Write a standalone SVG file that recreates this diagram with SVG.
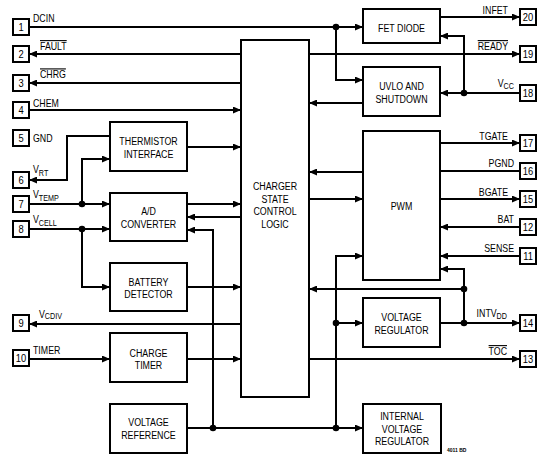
<svg xmlns="http://www.w3.org/2000/svg" width="547" height="465" viewBox="0 0 547 465">
<defs>
<marker id="a" markerUnits="userSpaceOnUse" markerWidth="8" markerHeight="7" refX="8" refY="3.5" orient="auto">
<path d="M0,0 L8,3.5 L0,7 z" fill="#000"/>
</marker>
<style>
.b{fill:#fff;stroke:#000;stroke-width:2}
.pin{fill:#fff;stroke:#000;stroke-width:2}
.c path{fill:none;stroke:#000;stroke-width:2}
.c .m{marker-end:url(#a)}
.c circle{fill:#000}
text{font-family:"Liberation Sans",Arial,Helvetica,sans-serif;fill:#000}
.t{font-size:11.5px;text-anchor:middle}
.l{font-size:11px}
.r{font-size:11px;text-anchor:end}
.n{font-size:11px;text-anchor:middle}
.s{font-size:9px}
.o{text-decoration:overline}
</style>
</defs>
<rect width="547" height="465" fill="#fff"/>

<g class="c" id="connectors">
<path class="m" d="M29,27 H363"/>
<path class="m" d="M336,27 V80 H363"/>
<path class="m" d="M241,54 H29"/>
<path class="m" d="M309,54 H520"/>
<path class="m" d="M241,83 H29"/>
<path class="m" d="M29,110 H241"/>
<path class="m" d="M187,147 H241"/>
<path class="m" d="M110,136 H67 V180 H29"/>
<path class="m" d="M29,204 H110"/>
<path class="m" d="M82,204 V159 H110"/>
<path class="m" d="M29,229 H110"/>
<path class="m" d="M82,229 V287 H110"/>
<path class="m" d="M187,204 H241"/>
<path class="m" d="M241,217 H187"/>
<path class="m" d="M213,428 V230 H187"/>
<path class="m" d="M187,287 H241"/>
<path class="m" d="M241,324 H29"/>
<path class="m" d="M29,359 H110"/>
<path class="m" d="M187,359 H241"/>
<path class="m" d="M187,428 H363"/>
<path class="m" d="M336,428 V256 H363"/>
<path class="m" d="M336,323 H363"/>
<path class="m" d="M440,17 H520"/>
<path class="m" d="M520,93 H440"/>
<path class="m" d="M464,93 V36 H440"/>
<path class="m" d="M363,103 H309"/>
<path class="m" d="M440,143 H520"/>
<path d="M440,171 H520"/>
<path class="m" d="M363,172 H309"/>
<path class="m" d="M309,199 H363"/>
<path class="m" d="M440,199 H520"/>
<path class="m" d="M520,227 H440"/>
<path class="m" d="M520,256 H440"/>
<path class="m" d="M440,323 H520"/>
<path class="m" d="M464,323 V269 H440"/>
<path class="m" d="M464,289 H309"/>
<path class="m" d="M309,359 H520"/>
<circle cx="336" cy="27" r="3.3"/>
<circle cx="464" cy="93" r="3.3"/>
<circle cx="82" cy="204" r="3.3"/>
<circle cx="82" cy="229" r="3.3"/>
<circle cx="213" cy="428" r="3.3"/>
<circle cx="336" cy="428" r="3.3"/>
<circle cx="336" cy="323" r="3.3"/>
<circle cx="464" cy="323" r="3.3"/>
<circle cx="464" cy="289" r="3.3"/>
</g>

<g id="thermistor"><rect class="b" x="110" y="122" width="77" height="49"/>
<text class="t" transform="translate(148.5,145) scale(0.77,1)">THERMISTOR</text>
<text class="t" transform="translate(148.5,158) scale(0.77,1)">INTERFACE</text></g>
<g id="adc"><rect class="b" x="110" y="193" width="77" height="48"/>
<text class="t" transform="translate(148.5,215) scale(0.77,1)">A/D</text>
<text class="t" transform="translate(148.5,228) scale(0.77,1)">CONVERTER</text></g>
<g id="battdet"><rect class="b" x="110" y="263" width="77" height="48"/>
<text class="t" transform="translate(148.5,285.5) scale(0.77,1)">BATTERY</text>
<text class="t" transform="translate(148.5,298) scale(0.77,1)">DETECTOR</text></g>
<g id="timer"><rect class="b" x="110" y="333" width="77" height="49"/>
<text class="t" transform="translate(148.5,356.5) scale(0.77,1)">CHARGE</text>
<text class="t" transform="translate(148.5,369) scale(0.77,1)">TIMER</text></g>
<g id="vref"><rect class="b" x="110" y="404" width="77" height="49"/>
<text class="t" transform="translate(148.5,426) scale(0.77,1)">VOLTAGE</text>
<text class="t" transform="translate(148.5,439) scale(0.77,1)">REFERENCE</text></g>
<g id="cscl"><rect class="b" x="241" y="40" width="68" height="357"/>
<text class="t" transform="translate(275,190) scale(0.77,1)">CHARGER</text>
<text class="t" transform="translate(275,202.5) scale(0.77,1)">STATE</text>
<text class="t" transform="translate(275,215) scale(0.77,1)">CONTROL</text>
<text class="t" transform="translate(275,227.5) scale(0.77,1)">LOGIC</text></g>
<g id="fetdiode"><rect class="b" x="363" y="9" width="77" height="34"/>
<text class="t" transform="translate(401.5,32) scale(0.77,1)">FET DIODE</text></g>
<g id="uvlo"><rect class="b" x="363" y="67" width="77" height="49"/>
<text class="t" transform="translate(401.5,90) scale(0.77,1)">UVLO AND</text>
<text class="t" transform="translate(401.5,102.7) scale(0.77,1)">SHUTDOWN</text></g>
<g id="pwm"><rect class="b" x="363" y="131" width="77" height="149"/>
<text class="t" transform="translate(401.5,210) scale(0.77,1)">PWM</text></g>
<g id="vreg"><rect class="b" x="363" y="298" width="77" height="49"/>
<text class="t" transform="translate(401.5,320.7) scale(0.77,1)">VOLTAGE</text>
<text class="t" transform="translate(401.5,334) scale(0.77,1)">REGULATOR</text></g>
<g id="intvreg"><rect class="b" x="363" y="404" width="78" height="49"/>
<text class="t" transform="translate(402,420) scale(0.77,1)">INTERNAL</text>
<text class="t" transform="translate(402,432.7) scale(0.77,1)">VOLTAGE</text>
<text class="t" transform="translate(402,445) scale(0.77,1)">REGULATOR</text></g>

<g id="pin1"><rect class="pin" x="13" y="19" width="16" height="16"/><text class="n" transform="translate(21,31) scale(0.85,1)">1</text>
<text class="l" transform="translate(33,22) scale(0.8,1)">DCIN</text></g>
<g id="pin2"><rect class="pin" x="13" y="46" width="16" height="16"/><text class="n" transform="translate(21,58) scale(0.85,1)">2</text>
<text class="l o" transform="translate(40,50) scale(0.8,1)">FAULT</text></g>
<g id="pin3"><rect class="pin" x="13" y="75" width="16" height="16"/><text class="n" transform="translate(21,87) scale(0.85,1)">3</text>
<text class="l o" transform="translate(40,78.3) scale(0.8,1)">CHRG</text></g>
<g id="pin4"><rect class="pin" x="13" y="102" width="16" height="16"/><text class="n" transform="translate(21,114) scale(0.85,1)">4</text>
<text class="l" transform="translate(33,106.5) scale(0.8,1)">CHEM</text></g>
<g id="pin5"><rect class="pin" x="13" y="130" width="16" height="16"/><text class="n" transform="translate(21,142) scale(0.85,1)">5</text>
<text class="l" transform="translate(33,141.7) scale(0.8,1)">GND</text></g>
<g id="pin6"><rect class="pin" x="13" y="172" width="16" height="16"/><text class="n" transform="translate(21,184) scale(0.85,1)">6</text>
<text class="l" transform="translate(33,173) scale(0.8,1)">V<tspan class="s" dy="3">RT</tspan></text></g>
<g id="pin7"><rect class="pin" x="13" y="196" width="16" height="16"/><text class="n" transform="translate(21,208) scale(0.85,1)">7</text>
<text class="l" transform="translate(33,198) scale(0.8,1)">V<tspan class="s" dy="3">TEMP</tspan></text></g>
<g id="pin8"><rect class="pin" x="13" y="221" width="16" height="16"/><text class="n" transform="translate(21,233) scale(0.85,1)">8</text>
<text class="l" transform="translate(33,223) scale(0.8,1)">V<tspan class="s" dy="2.5">CELL</tspan></text></g>
<g id="pin9"><rect class="pin" x="13" y="315" width="16" height="16"/><text class="n" transform="translate(21,327) scale(0.85,1)">9</text>
<text class="l" transform="translate(39,318) scale(0.8,1)">V<tspan class="s" dy="1">CDIV</tspan></text></g>
<g id="pin10"><rect class="pin" x="13" y="350" width="16" height="16"/><text class="n" transform="translate(21,362) scale(0.85,1)">10</text>
<text class="l" transform="translate(33,354) scale(0.8,1)">TIMER</text></g>

<g id="pin20"><rect class="pin" x="520" y="9" width="16" height="16"/><text class="n" transform="translate(528,21) scale(0.85,1)">20</text>
<text class="r" transform="translate(508,14) scale(0.8,1)">INFET</text></g>
<g id="pin19"><rect class="pin" x="520" y="46" width="16" height="16"/><text class="n" transform="translate(528,58) scale(0.85,1)">19</text>
<text class="r o" transform="translate(508,50) scale(0.8,1)">READY</text></g>
<g id="pin18"><rect class="pin" x="520" y="85" width="16" height="16"/><text class="n" transform="translate(528,97) scale(0.85,1)">18</text>
<text class="r" transform="translate(514,87) scale(0.8,1)">V<tspan class="s" dy="2">CC</tspan></text></g>
<g id="pin17"><rect class="pin" x="520" y="135" width="16" height="16"/><text class="n" transform="translate(528,147) scale(0.85,1)">17</text>
<text class="r" transform="translate(508,140) scale(0.8,1)">TGATE</text></g>
<g id="pin16"><rect class="pin" x="520" y="163" width="16" height="16"/><text class="n" transform="translate(528,175) scale(0.85,1)">16</text>
<text class="r" transform="translate(514,167) scale(0.8,1)">PGND</text></g>
<g id="pin15"><rect class="pin" x="520" y="191" width="16" height="16"/><text class="n" transform="translate(528,203) scale(0.85,1)">15</text>
<text class="r" transform="translate(508,195.7) scale(0.8,1)">BGATE</text></g>
<g id="pin12"><rect class="pin" x="520" y="219" width="16" height="16"/><text class="n" transform="translate(528,231) scale(0.85,1)">12</text>
<text class="r" transform="translate(514,223) scale(0.8,1)">BAT</text></g>
<g id="pin11"><rect class="pin" x="520" y="248" width="16" height="16"/><text class="n" transform="translate(528,260) scale(0.85,1)">11</text>
<text class="r" transform="translate(514,251.7) scale(0.8,1)">SENSE</text></g>
<g id="pin14"><rect class="pin" x="520" y="315" width="16" height="16"/><text class="n" transform="translate(528,327) scale(0.85,1)">14</text>
<text class="r" transform="translate(507,317) scale(0.8,1)">INTV<tspan class="s" dy="2">DD</tspan></text></g>
<g id="pin13"><rect class="pin" x="520" y="351" width="16" height="16"/><text class="n" transform="translate(528,363) scale(0.85,1)">13</text>
<text class="r o" transform="translate(507,355) scale(0.8,1)">TOC</text></g>

<text x="447" y="452" style="font-size:5px;font-weight:bold">4011 BD</text>
</svg>
